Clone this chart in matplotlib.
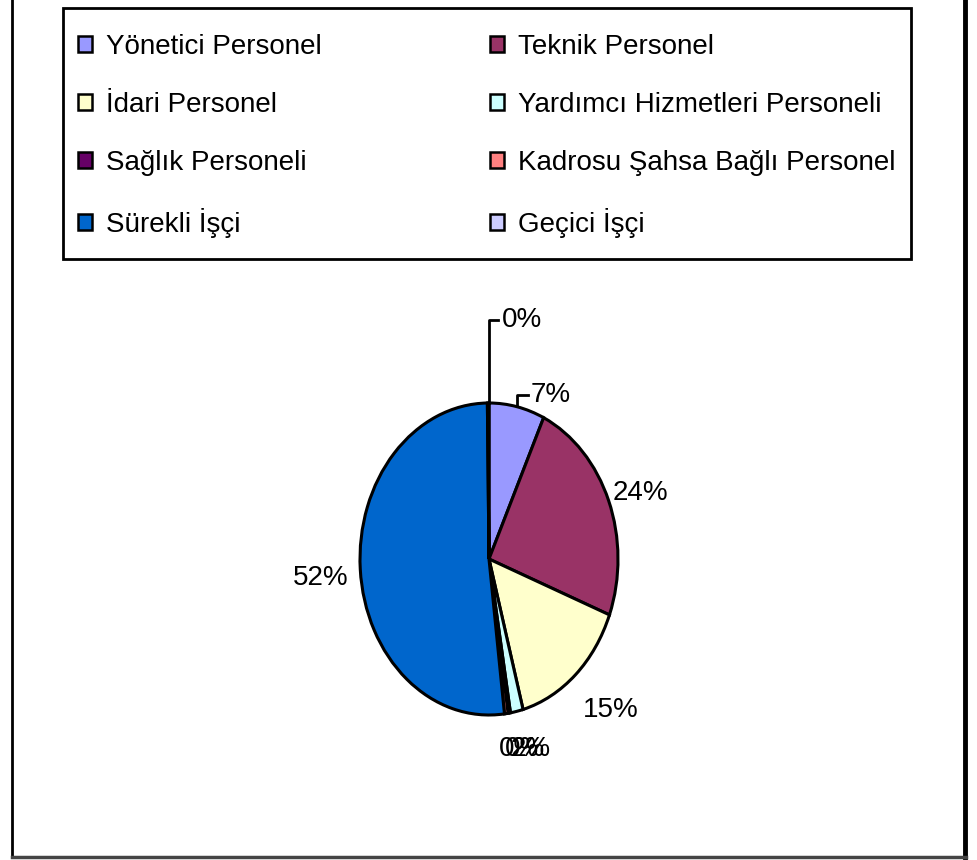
import matplotlib.pyplot as plt
from matplotlib.lines import Line2D
from matplotlib.patches import Rectangle

plt.rcParams['font.family'] = ['Liberation Sans', 'DejaVu Sans']

# personel dagilimi (%)
kategoriler = ['Yönetici Personel', 'Teknik Personel', 'İdari Personel',
               'Yardımcı Hizmetleri Personeli', 'Sağlık Personeli',
               'Kadrosu Şahsa Bağlı Personel', 'Sürekli İşçi', 'Geçici İşçi']
oranlar = [7.0, 24.0, 15.0, 1.6, 0.3, 0.45, 52.0, 0.2]
renkler = ['#9999FF', '#993366', '#FFFFCC', '#CCFFFF', '#660066',
           '#FF8080', '#0066CC', '#CCCCFF']

W, H = 977, 860
fig = plt.figure(figsize=(W / 100, H / 100), dpi=100)

# pie center (489, 559) px, rx 129, ry 156
cx, cy, rx, ry = 489, 559, 129, 156
xl, yl = 2.0, 1.8
ax = fig.add_axes([(cx - xl * rx) / W, (H - cy - yl * ry) / H,
                   2 * xl * rx / W, 2 * yl * ry / H])

toplam = sum(oranlar)
etiketler = ['%d%%' % round(v / toplam * 100) for v in oranlar]

wedges, texts = ax.pie(oranlar, colors=renkler, startangle=90, counterclock=False,
                       labels=etiketler, labeldistance=1.1,
                       wedgeprops=dict(edgecolor='black', linewidth=2.2),
                       textprops=dict(fontsize=20))
ax.set_aspect('auto')
ax.set_xlim(-xl, xl)
ax.set_ylim(-yl, yl)
ax.axis('off')

# label placement (data units of the pie)
konum = [(0.32, 1.05), (0.96, 0.42), (0.73, -0.97), (0.17, -1.22),
         (0.12, -1.22), (0.08, -1.22), (-1.09, -0.12), (0.1, 1.53)]
for t, (x, y) in zip(texts, konum):
    t.set_position((x, y))
    t.set_va('center')
    t.set_ha('right' if x < 0 else 'left')

# leader lines for the small top slices
ax.plot([0, 0, 0.07], [1.0, 1.53, 1.53], color='black', lw=2)
ax.plot([0.215, 0.215, 0.3], [0.985, 1.05, 1.05], color='black', lw=2)

# legend, row order as in the reference
sira = [0, 2, 4, 6, 1, 3, 5, 7]
top = 1 - 19 / H
leg = fig.legend([wedges[i] for i in sira], [kategoriler[i] for i in sira],
                 ncol=2, mode='expand', loc='upper left',
                 bbox_to_anchor=(63 / W, top - 0.3, (911 - 63) / W, 0.3),
                 fontsize=20, frameon=False,
                 handlelength=0.5, handleheight=0.5, handletextpad=0.5,
                 labelspacing=1.15, borderpad=0.55, borderaxespad=0)
for p in leg.get_patches():
    p.set_linewidth(1.8)

# legend box
fig.add_artist(Rectangle((63 / W, 1 - 259 / H), (911 - 63) / W, (259 - 8) / H,
                         transform=fig.transFigure, fill=False,
                         edgecolor='black', lw=2))

# outer chart frame
def px(x, y):
    return x / W, 1 - y / H

fig.add_artist(Line2D(*zip(px(12, 0), px(12, 857)), color='black', lw=2))
fig.add_artist(Line2D(*zip(px(965, 0), px(965, 857)), color='black', lw=3.5))
fig.add_artist(Line2D(*zip(px(12, 857), px(966, 857)), color='#444444', lw=2.5))

fig.savefig('out.png', dpi=100)
